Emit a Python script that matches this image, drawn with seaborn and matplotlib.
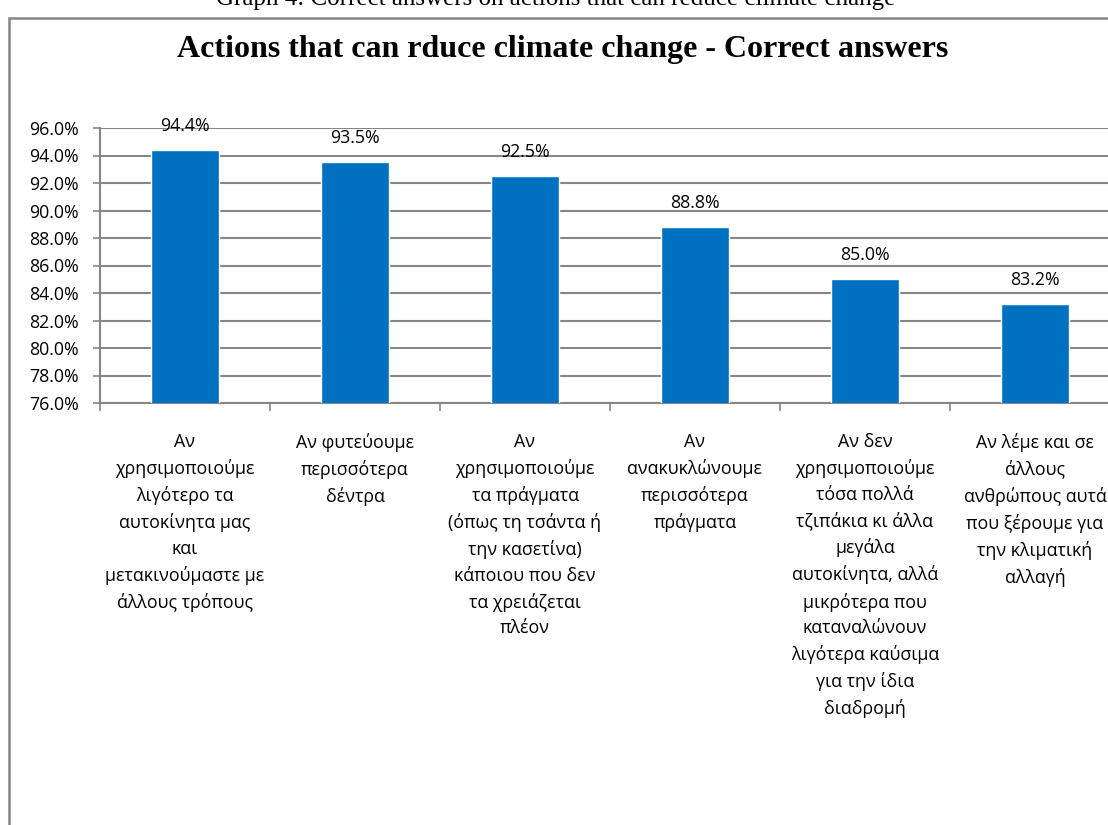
import matplotlib.pyplot as plt
import matplotlib.patches as mpatches
from matplotlib.ticker import PercentFormatter, MultipleLocator
import seaborn as sns
import pandas as pd

sns.set_style("white")
plt.rcParams['font.family'] = ['Open Sans', 'DejaVu Sans']
plt.rcParams['text.color'] = 'black'
plt.rcParams['xtick.color'] = 'black'
plt.rcParams['ytick.color'] = 'black'

actions = [
    "Αν\nχρησιμοποιούμε\nλιγότερο τα\nαυτοκίνητα μας\nκαι\nμετακινούμαστε με\nάλλους τρόπους",
    "Αν φυτεύουμε\nπερισσότερα\nδέντρα",
    "Αν\nχρησιμοποιούμε\nτα πράγματα\n(όπως τη τσάντα ή\nτην κασετίνα)\nκάποιου που δεν\nτα χρειάζεται\nπλέον",
    "Αν\nανακυκλώνουμε\nπερισσότερα\nπράγματα",
    "Αν δεν\nχρησιμοποιούμε\nτόσα πολλά\nτζιπάκια κι άλλα\nμεγάλα\nαυτοκίνητα, αλλά\nμικρότερα που\nκαταναλώνουν\nλιγότερα καύσιμα\nγια την ίδια\nδιαδρομή",
    "Αν λέμε και σε\nάλλους\nανθρώπους αυτά\nπου ξέρουμε για\nτην κλιματική\nαλλαγή",
]
correct = [94.4, 93.5, 92.5, 88.8, 85.0, 83.2]
df = pd.DataFrame({'Action': actions, 'Correct': correct})

grey = '#868686'
fig = plt.figure(figsize=(11.08, 8.25), dpi=100)
ax = fig.add_axes([100 / 1108, 1 - 403 / 825, 1020 / 1108, 275 / 825])

sns.barplot(data=df, x='Action', y='Correct', color='#0070C0', width=0.4,
            saturation=1, ax=ax, zorder=3)
ax.set_ylim(76, 96)
ax.set_xlim(-0.5, 5.5)
ax.yaxis.set_major_locator(MultipleLocator(2))
ax.yaxis.set_major_formatter(PercentFormatter(decimals=1))
ax.grid(axis='y', color=grey, lw=1.5, zorder=0)
ax.set_xlabel('')
ax.set_ylabel('')

for s in ['top', 'right']:
    ax.spines[s].set_visible(False)
for s in ['left', 'bottom']:
    ax.spines[s].set_color(grey)
    ax.spines[s].set_linewidth(1.5)

ax.tick_params(axis='y', labelsize=12.8, length=5, color=grey, width=1.2,
               direction='out', left=True, pad=10)
ax.tick_params(axis='x', bottom=False, labelsize=12.8, pad=18)
for lbl in ax.get_xticklabels():
    lbl.set_linespacing(1.54)
    lbl.set_va('top')
# category boundary ticks
ax.set_xticks([i - 0.5 for i in range(7)], minor=True)
ax.tick_params(axis='x', which='minor', bottom=True, length=6, color=grey, width=1.2)

for i, v in enumerate(correct):
    ax.text(i, v + 1.1, f"{v:.1f}%", ha='center', va='bottom', fontsize=12.8)

fig.text(563 / 1108, 1 - 50 / 825, "Actions that can rduce climate change - Correct answers",
         ha='center', va='center', fontsize=23, fontweight='bold',
         family=['Liberation Serif', 'DejaVu Serif'])
fig.text(556 / 1108, 1 + 1 / 825, "Graph 4: Correct answers on actions that can reduce climate change",
         ha='center', va='center', fontsize=18,
         family=['Liberation Serif', 'DejaVu Serif'])

frame = mpatches.Rectangle((9 / 1108, -0.05), 1.1, 1 - 18 / 825 + 0.05,
                           transform=fig.transFigure, fill=False,
                           edgecolor=grey, lw=1.8, clip_on=False)
fig.patches.append(frame)

fig.savefig('out.png', dpi=100)
